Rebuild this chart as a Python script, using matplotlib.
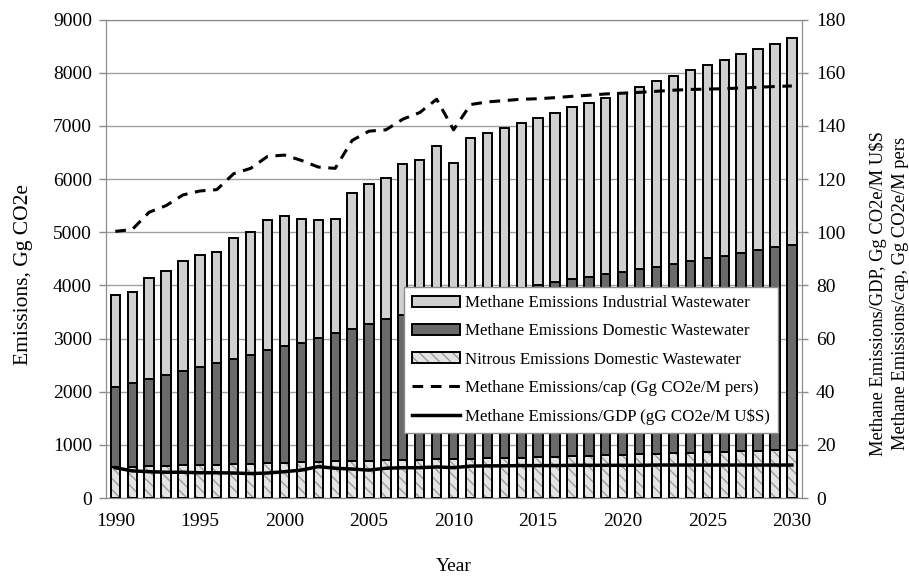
import numpy as np
import matplotlib
matplotlib.use('Agg')
import matplotlib.pyplot as plt

plt.rcParams['font.family'] = ['Liberation Serif', 'DejaVu Serif']

years = np.arange(1990, 2031)

# Gg CO2e, stacked bottom to top
nitrous_domestic = [590, 590, 595, 610, 615, 625, 630, 635, 645, 655,
                    665, 680, 685, 690, 700, 705, 710, 715, 720, 725,
                    730, 740, 745, 755, 760, 765, 775, 785, 795, 805,
                    815, 820, 830, 840, 850, 860, 870, 880, 885, 895, 905]
methane_domestic = [1490, 1580, 1645, 1705, 1780, 1840, 1915, 1975, 2050, 2120,
                    2195, 2235, 2330, 2415, 2485, 2575, 2655, 2725, 2790, 2865,
                    2930, 2990, 3055, 3115, 3180, 3245, 3295, 3335, 3370, 3410,
                    3440, 3485, 3520, 3560, 3605, 3660, 3690, 3730, 3780, 3825, 3855]
methane_industrial = [1740, 1705, 1895, 1960, 2060, 2110, 2075, 2285, 2300, 2455,
                      2450, 2330, 2215, 2140, 2555, 2625, 2650, 2840, 2845, 3035,
                      2645, 3035, 3060, 3095, 3105, 3135, 3175, 3225, 3265, 3315,
                      3370, 3430, 3485, 3535, 3590, 3625, 3680, 3735, 3775, 3825, 3885]

# right axis
methane_per_cap = [100.3, 101, 107.5, 110, 114, 115.5, 116, 122, 124, 128.5,
                   129, 127, 124.5, 124, 134.5, 138, 138.5, 142.5, 145, 150,
                   138.5, 148, 149, 149.5, 150, 150.2, 150.6, 151.1, 151.5, 152,
                   152.3, 152.6, 153, 153.4, 153.7, 153.8, 154, 154.2, 154.5, 154.8, 155]
methane_per_gdp = [11.4, 10.2, 9.9, 9.7, 9.7, 9.5, 9.5, 9.4, 9.2, 9.4,
                   9.9, 10.5, 11.8, 11.2, 10.9, 10.5, 11.2, 11.4, 11.4, 11.7,
                   11.4, 12.0, 12.1, 12.1, 12.2, 12.2, 12.2, 12.3, 12.3, 12.3,
                   12.3, 12.3, 12.4, 12.4, 12.4, 12.4, 12.4, 12.4, 12.4, 12.4, 12.4]

fig = plt.figure(figsize=(9.09, 5.77), dpi=100)
ax = fig.add_axes([0.1166, 0.1369, 0.7657, 0.8293])

w = 0.55
edge = dict(edgecolor='black', linewidth=1.4)
# textured fill drawn first, outline on top so the hatch stays gray
nitrous_fill = ax.bar(years, nitrous_domestic, w, color='#e4e4e4', edgecolor='#9c9c9c',
                      hatch='\\\\\\', linewidth=0, zorder=2)
nitrous_edge = ax.bar(years, nitrous_domestic, w, facecolor='none', zorder=3, **edge)
dom_bars = ax.bar(years, methane_domestic, w, bottom=nitrous_domestic,
                  color='#6a6a6a', zorder=3, **edge)
ind_bottom = np.add(nitrous_domestic, methane_domestic)
ind_bars = ax.bar(years, methane_industrial, w, bottom=ind_bottom,
                  color='#d0d0d0', zorder=3, **edge)

ax.set_xlim(1989.45, 2030.6)
ax.set_ylim(0, 9000)
ax.set_yticks(range(0, 9001, 1000))
ax.set_xticks(range(1990, 2031, 5))
ax.yaxis.grid(True, color='#a0a0a0', linewidth=1)
ax.set_axisbelow(True)
for s in ax.spines.values():
    s.set_color('#8c8c8c')
ax.tick_params(axis='y', length=5, width=1, color='#8c8c8c', pad=5, labelsize=14)
ax.tick_params(axis='x', length=0, pad=11, labelsize=14)
ax.set_xlabel('Year', fontsize=14, labelpad=20)
ax.set_ylabel('Emissions, Gg CO2e', fontsize=15.5)
ax.yaxis.set_label_coords(-0.105, 0.468)

ax2 = ax.twinx()
ln_cap, = ax2.plot(years, methane_per_cap, color='black', linewidth=2.2,
                   dashes=(3.5, 2.5), zorder=4)
ln_gdp, = ax2.plot(years, methane_per_gdp, color='black', linewidth=2.5, zorder=4)
ax2.set_ylim(0, 180)
ax2.set_yticks(range(0, 181, 20))
for s in ax2.spines.values():
    s.set_color('#8c8c8c')
ax2.tick_params(axis='y', length=4, width=1, color='#8c8c8c', pad=6, labelsize=14)
ax2.set_ylabel('Methane Emissions/GDP, Gg CO2e/M U$S\nMethane Emissions/cap, Gg CO2e/M pers',
               fontsize=13.3, linespacing=1.4)
ax2.yaxis.set_label_coords(1.096, 0.428)

handles = [ind_bars, dom_bars, (nitrous_fill[0], nitrous_edge[0]), ln_cap, ln_gdp]
labels = ['Methane Emissions Industrial Wastewater',
          'Methane Emissions Domestic Wastewater',
          'Nitrous Emissions Domestic Wastewater',
          'Methane Emissions/cap (Gg CO2e/M pers)',
          'Methane Emissions/GDP (gG CO2e/M U$S)']
leg = ax2.legend(handles, labels, loc='upper left', bbox_to_anchor=(0.444, 0.503),
                 bbox_transform=fig.transFigure, borderaxespad=0, fontsize=12.2,
                 handlelength=2.8, handleheight=0.6, handletextpad=0.3,
                 labelspacing=0.72, borderpad=0.5, fancybox=False, framealpha=1,
                 edgecolor='#8c8c8c')
leg.get_frame().set_linewidth(1)

fig.savefig('out.png', dpi=100)
